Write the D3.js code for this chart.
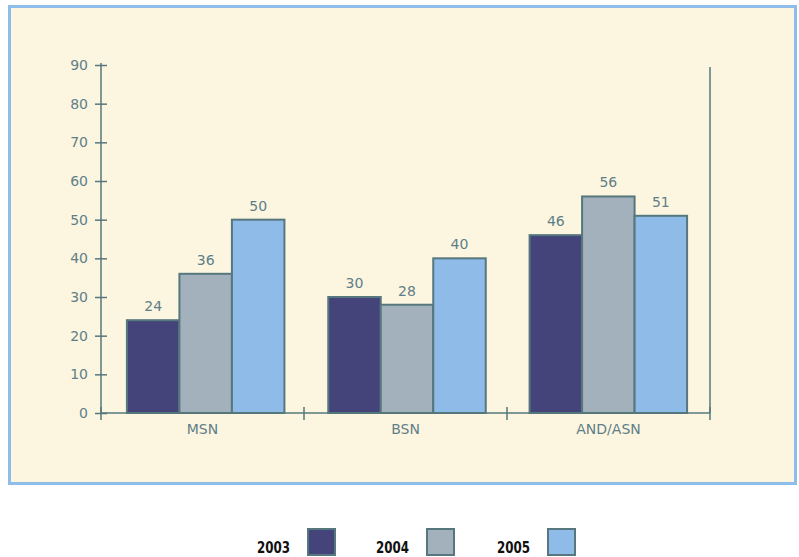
<!DOCTYPE html>
<html>
<head>
<meta charset="utf-8">
<script src="https://cdn.jsdelivr.net/npm/d3@7"></script>
<style>
  body { margin: 0; background: #ffffff; }
</style>
</head>
<body>
<div id="chart"></div>
<script>
// Chart data
var categories = ["MSN", "BSN", "AND/ASN"];
var years = ["2003", "2004", "2005"];
var values2003 = [24, 30, 46];
var values2004 = [36, 28, 56];
var values2005 = [50, 40, 51];
var yTicks = [0, 10, 20, 30, 40, 50, 60, 70, 80, 90];

var colors = ["#45447a", "#a2b1bb", "#8fbbe8"];
var axisColor = "#56777d";
var textColor = "#5e7f88";

var width = 799, height = 557;

var svg = d3.select("#chart").append("svg")
  .attr("width", width)
  .attr("height", height);

// Panel background
svg.append("rect")
  .attr("x", 9.5).attr("y", 6.5)
  .attr("width", 786).attr("height", 477)
  .attr("fill", "#fcf5e0")
  .attr("stroke", "#8fbde9")
  .attr("stroke-width", 3);

// Scales
var x = d3.scaleBand().domain(categories).range([101, 710]);
var xBars = d3.scaleBand().domain(categories).range([105, 709]);
var y = d3.scaleLinear().domain([0, 90]).range([413, 65]);
var series = [values2003, values2004, values2005];
var barW = 52.5;

// Bars
var groups = svg.append("g")
  .selectAll("g")
  .data(categories)
  .join("g")
  .attr("transform", d => `translate(${xBars(d) + xBars.bandwidth() / 2 - barW * 1.5},0)`);

groups.selectAll("rect")
  .data((c, ci) => series.map((s, si) => ({ v: s[ci], si: si })))
  .join("rect")
  .attr("x", d => d.si * barW)
  .attr("y", d => y(d.v))
  .attr("width", barW)
  .attr("height", d => y(0) - y(d.v))
  .attr("fill", d => colors[d.si])
  .attr("stroke", axisColor)
  .attr("stroke-width", 2);

groups.selectAll("text")
  .data((c, ci) => series.map((s, si) => ({ v: s[ci], si: si })))
  .join("text")
  .attr("x", d => d.si * barW + barW / 2)
  .attr("y", d => y(d.v) - 9)
  .attr("text-anchor", "middle")
  .attr("font-family", "DejaVu Sans, sans-serif")
  .attr("font-size", 14)
  .attr("fill", textColor)
  .text(d => d.v);

// Y axis
var yAxis = svg.append("g")
  .attr("transform", "translate(101,0)")
  .call(d3.axisLeft(y).tickValues(yTicks).tickSize(6).tickPadding(7));
yAxis.selectAll(".tick line").attr("x2", 6).attr("x1", -6);
yAxis.select(".domain").attr("d", `M0,${y(0)}V${y(90) - 2}`);

// X axis
var xAxis = svg.append("g")
  .attr("transform", `translate(0,${y(0)})`)
  .call(d3.axisBottom(x).tickSize(0).tickPadding(11));
xAxis.select(".domain").attr("d", "M101,0H710");
xAxis.selectAll(".sep")
  .data(categories.concat(["end"]))
  .join("line")
  .attr("class", "sep")
  .attr("x1", (d, i) => 101 + i * x.bandwidth())
  .attr("x2", (d, i) => 101 + i * x.bandwidth())
  .attr("y1", -6).attr("y2", 7)
  .attr("stroke", axisColor)
  .attr("stroke-width", 1.5);

// Right axis line
svg.append("line")
  .attr("x1", 710).attr("x2", 710)
  .attr("y1", y(90) + 2).attr("y2", y(0))
  .attr("stroke", axisColor)
  .attr("stroke-width", 1.5);

svg.selectAll(".domain").attr("stroke", axisColor).attr("stroke-width", 1.5);
svg.selectAll(".tick line").attr("stroke", axisColor).attr("stroke-width", 1.5);
svg.selectAll(".tick text")
  .attr("fill", textColor)
  .attr("font-family", "DejaVu Sans, sans-serif")
  .attr("font-size", 14);

// Legend
var legendX = [290, 409, 530];
var legend = svg.append("g")
  .selectAll("g")
  .data(years)
  .join("g");

legend.append("text")
  .attr("x", (d, i) => legendX[i] - 33)
  .attr("y", 553)
  .attr("textLength", 33)
  .attr("lengthAdjust", "spacingAndGlyphs")
  .attr("font-family", "DejaVu Sans, sans-serif")
  .attr("font-weight", "bold")
  .attr("font-size", 16)
  .attr("fill", "#111")
  .text(d => d);

legend.append("rect")
  .attr("x", (d, i) => legendX[i] + 18)
  .attr("y", 529)
  .attr("width", 27)
  .attr("height", 26)
  .attr("fill", (d, i) => colors[i])
  .attr("stroke", axisColor)
  .attr("stroke-width", 2);
</script>
</body>
</html>
